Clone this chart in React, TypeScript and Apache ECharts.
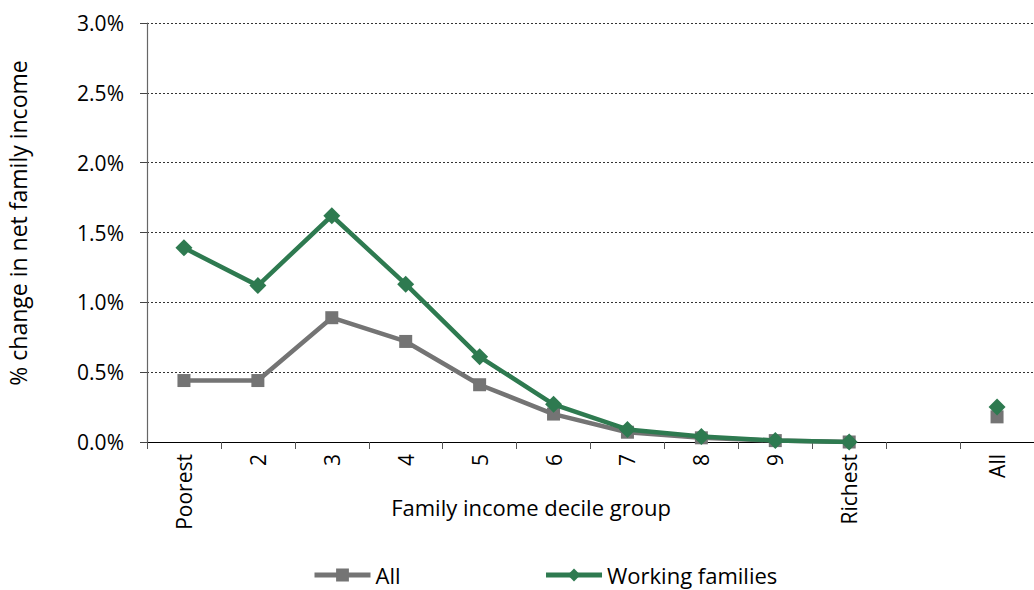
import React, { useEffect, useRef } from "react";
import * as echarts from "echarts";

const categories = ["Poorest", "2", "3", "4", "5", "6", "7", "8", "9", "Richest", "", "All"];
const allValues: (number | null)[] = [0.44, 0.44, 0.89, 0.72, 0.41, 0.2, 0.07, 0.03, 0.01, 0.0, null, 0.18];
const workingValues: (number | null)[] = [1.39, 1.12, 1.62, 1.13, 0.61, 0.27, 0.09, 0.04, 0.01, 0.0, null, 0.25];
const yTicks = { min: 0, max: 3, interval: 0.5 };

const FONT = "'Open Sans', 'Noto Sans', sans-serif";
const FS = 21;
const GRAY = "#747474";
const GREEN = "#2e7a50";

export default function App() {
  const ref = useRef<HTMLDivElement>(null);
  useEffect(() => {
    document.body.style.margin = "0";
    const chart = echarts.init(ref.current!, null, { renderer: "svg" });
    chart.setOption({
      animation: false,
      textStyle: { fontFamily: FONT },
      grid: { left: 147, right: -6, top: 23, bottom: 148, containLabel: false },
      xAxis: {
        type: "category",
        data: categories,
        boundaryGap: true,
        axisLine: { lineStyle: { color: "#000", width: 1.2 } },
        axisTick: { show: true, length: 7, inside: false, lineStyle: { color: "#555" } },
        axisLabel: { rotate: 90, fontSize: FS, color: "#000", margin: 12, interval: 0, fontFamily: FONT },
      },
      yAxis: {
        type: "value",
        min: yTicks.min,
        max: yTicks.max,
        interval: yTicks.interval,
        axisLine: { show: true, lineStyle: { color: "#666", width: 1.2 } },
        axisTick: { show: true, length: 7, lineStyle: { color: "#444" } },
        axisLabel: {
          fontSize: FS,
          color: "#000",
          margin: 23,
          fontFamily: FONT,
          formatter: (v: number) => v.toFixed(1) + "%",
        },
        splitLine: { show: true, lineStyle: { color: "#333", type: [2, 2], width: 1 } },
      },
      legend: {
        left: 307,
        top: 559,
        itemWidth: 56,
        itemHeight: 16,
        itemGap: 143,
        lineStyle: { width: 5 },
        textStyle: { fontSize: 22, color: "#000", fontFamily: FONT },
        data: ["All", "Working families"],
      },
      graphic: [
        {
          type: "text",
          x: 531,
          y: 507,
          style: {
            text: "Family income decile group",
            fontSize: 22,
            fill: "#000",
            fontFamily: FONT,
            textAlign: "center",
            textVerticalAlign: "middle",
          },
        },
        {
          type: "text",
          x: 18,
          y: 223,
          rotation: Math.PI / 2,
          style: {
            text: "% change in net family income",
            fontSize: 23,
            fill: "#000",
            fontFamily: FONT,
            textAlign: "center",
            textVerticalAlign: "middle",
          },
        },
      ],
      series: [
        {
          name: "All",
          type: "line",
          data: allValues,
          connectNulls: false,
          symbol: "rect",
          symbolSize: 13,
          itemStyle: { color: GRAY },
          lineStyle: { color: GRAY, width: 4.5 },
          z: 2,
        },
        {
          name: "Working families",
          type: "line",
          data: workingValues,
          connectNulls: false,
          symbol: "diamond",
          symbolSize: 17,
          itemStyle: { color: GREEN },
          lineStyle: { color: GREEN, width: 4.5 },
          z: 3,
        },
      ],
    });
    return () => chart.dispose();
  }, []);
  return <div ref={ref} style={{ position: "absolute", left: 0, top: 0, width: 1034, height: 590 }} />;
}
